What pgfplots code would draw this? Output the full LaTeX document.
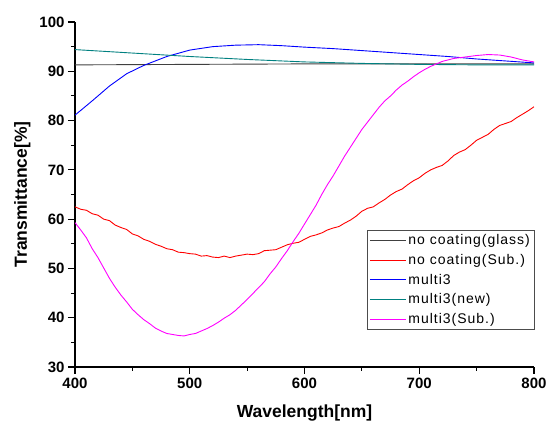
\documentclass[border=0pt]{standalone}
\usepackage{pgfplots}
\pgfplotsset{compat=1.18}
\usepackage{fontspec}
\setmainfont{Liberation Sans}
\definecolor{cteal}{RGB}{0,128,128}
\definecolor{cgray}{RGB}{64,64,64}
\definecolor{cblue}{RGB}{0,0,255}
\definecolor{cred}{RGB}{255,0,0}
\definecolor{cmag}{RGB}{255,0,255}
\begin{document}
\begin{tikzpicture}
\begin{axis}[
  width=459pt, height=345pt, scale only axis,
  xmin=400, xmax=800, ymin=30, ymax=100,
  axis lines=left, axis line style={-, line width=1.2pt},
  xtick={400,500,...,800}, ytick={30,40,...,100},
  minor x tick num=1, minor y tick num=1,
  tick align=outside, tick style={line width=1.1pt, black},
  major tick length=7pt, minor tick length=4pt,
  /pgf/number format/assume math mode=true,
  ticklabel style={font=\bfseries\fontsize{15}{15}\selectfont},
  xlabel={Wavelength[nm]}, ylabel={Transmittance[\%]},
  label style={font=\bfseries\fontsize{17.5}{17.5}\selectfont},
  xlabel style={yshift=-10pt}, ylabel style={yshift=2pt},
  legend style={at={(1.0,0.11)}, anchor=south east, draw=black!70,
    font=\fontsize{14}{14}\selectfont\addfontfeatures{LetterSpace=7},
    row sep=4pt, inner sep=2pt, cells={anchor=west}},
  legend cell align=left,
  legend image code/.code={\draw[#1, line width=1pt] (0pt,0pt) -- (36pt,0pt);},
  every axis plot/.append style={line width=0.9pt, no marks},
]
\addplot[color=cgray] coordinates {(400,91.3) (500,91.4) (600,91.5) (700,91.5) (800,91.5)};
\addlegendentry{no coating(glass)}
\addplot[color=cred] coordinates {
(400,62.5) (405,62.0) (410,61.8) (415,61.1) (420,60.8) (425,60.0) (430,59.7) (435,58.8)
(440,58.3) (445,57.9) (450,57.0) (455,56.6) (460,55.9) (465,55.5) (470,54.9) (475,54.5)
(480,54.0) (485,53.8) (490,53.3) (495,53.2) (500,53.0) (505,52.9) (510,52.5) (515,52.6)
(520,52.3) (525,52.2) (530,52.5) (535,52.2) (540,52.5) (545,52.7) (550,52.9) (555,52.8)
(560,53.0) (565,53.6) (570,53.7) (575,53.8) (580,54.3) (585,54.8) (590,55.1) (595,55.3)
(600,55.9) (605,56.5) (610,56.8) (615,57.2) (620,57.8) (625,58.2) (630,58.5) (635,59.2)
(640,59.8) (645,60.6) (650,61.6) (655,62.2) (660,62.5) (665,63.3) (670,64.0) (675,64.9)
(680,65.6) (685,66.1) (690,67.0) (695,67.8) (700,68.4) (705,69.3) (710,70.0) (715,70.5)
(720,70.9) (725,71.8) (730,72.9) (735,73.6) (740,74.1) (745,75.0) (750,76.0) (755,76.6)
(760,77.2) (765,78.2) (770,79.0) (775,79.4) (780,79.8) (785,80.6) (790,81.3) (795,82.0)
(800,82.8)};
\addlegendentry{no coating(Sub.)}
\addplot[color=cblue] coordinates {
(400,81.1) (415,84.0) (430,87.0) (445,89.5) (460,91.2) (480,93.0) (500,94.3) (520,95.0)
(540,95.3) (560,95.4) (580,95.2) (600,94.9) (625,94.6) (650,94.2) (675,93.8) (700,93.4)
(725,93.0) (750,92.5) (775,92.1) (800,91.7)};
\addlegendentry{multi3}
\addplot[color=cteal] coordinates {
(400,94.4) (450,93.7) (500,93.0) (550,92.4) (600,91.9) (650,91.6) (700,91.4) (750,91.3) (800,91.3)};
\addlegendentry{multi3(new)}
\addplot[color=cmag] coordinates {
(400,59.3) (405,57.8) (410,56.2) (415,54.0) (420,52.2) (425,50.1) (430,48.0) (435,46.2)
(440,44.6) (445,43.2) (450,41.7) (455,40.6) (460,39.6) (465,38.8) (470,37.9) (475,37.3)
(480,36.8) (485,36.6) (490,36.4) (495,36.3) (500,36.6) (505,36.8) (510,37.3) (515,37.8)
(520,38.4) (525,39.1) (530,39.9) (535,40.6) (540,41.5) (545,42.6) (550,43.7) (555,44.9)
(560,46.1) (565,47.3) (570,48.9) (575,50.3) (580,52.0) (585,53.6) (590,55.4) (595,57.1)
(600,59.0) (605,60.9) (610,62.8) (615,65.0) (620,67.0) (625,68.8) (630,70.8) (635,72.8)
(640,74.6) (645,76.4) (650,78.2) (655,79.7) (660,81.2) (665,82.7) (670,84.0) (675,85.0)
(680,86.2) (685,87.2) (690,88.0) (695,88.9) (700,89.7) (705,90.4) (710,91.0) (715,91.5)
(720,92.0) (730,92.6) (740,92.9) (750,93.2) (760,93.4) (770,93.3) (780,92.9) (790,92.3)
(800,91.9)};
\addlegendentry{multi3(Sub.)}
\end{axis}
\pgfresetboundingbox
\path (current axis.south west) ++(-75pt,-57pt) rectangle ([shift={(14pt,22pt)}]current axis.north east);
\end{tikzpicture}
\end{document}
